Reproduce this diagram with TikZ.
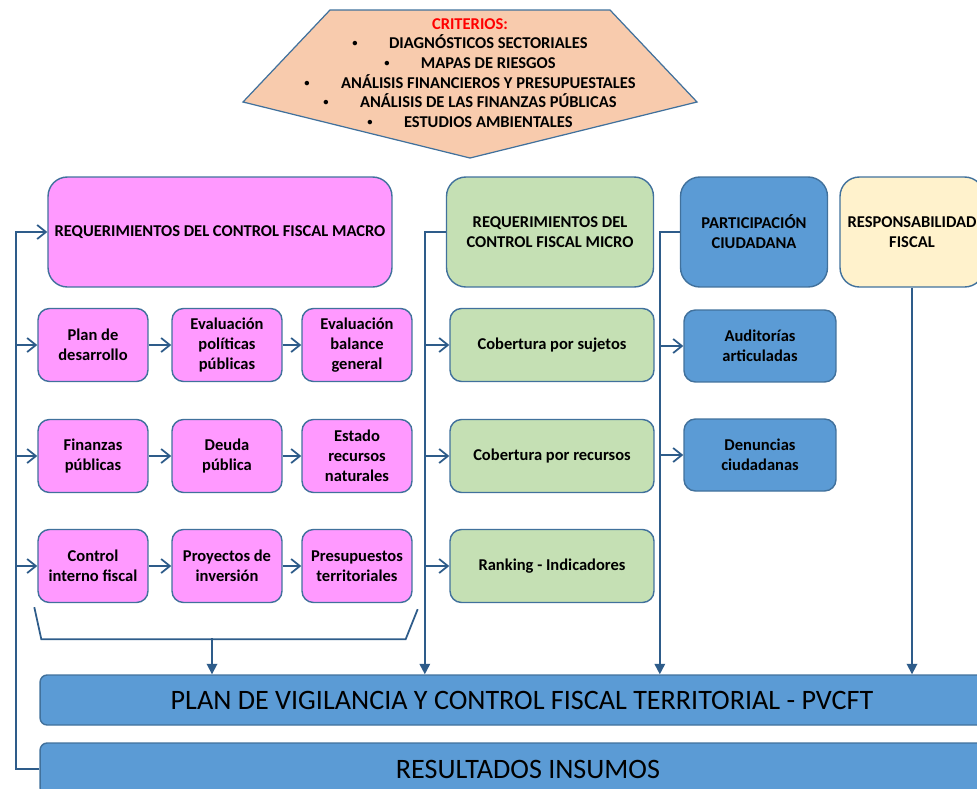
\documentclass[tikz,border=0pt]{standalone}
\usepackage{fontspec}
\setmainfont{Carlito}
\usetikzlibrary{arrows.meta}

\definecolor{rosa}{HTML}{FF99FF}
\definecolor{verde}{HTML}{C5E0B4}
\definecolor{azul}{HTML}{5B9BD5}
\definecolor{crema}{HTML}{FFF2CC}
\definecolor{durazno}{HTML}{F8CBAD}
\definecolor{borde}{HTML}{41719C}
\definecolor{linea}{HTML}{2E5C8A}
\newcommand{\punto}{\raisebox{0.25ex}{\fontsize{6}{6}\selectfont\textbullet}\hspace{1.9em}}

\begin{document}
\begin{tikzpicture}[x=0.02cm, y=-0.02cm,
            box/.style={draw=borde, line width=0.8pt, rounded corners=6.5pt, align=center, inner sep=2pt,
                font=\fontsize{9.4}{11.3}\selectfont\bfseries},
            bigbox/.style={box, rounded corners=11pt, minimum height=2.2cm},
            macrobox/.style={box, fill=rosa, minimum width=2.2cm, minimum height=1.46cm},
            microbox/.style={box, fill=verde, minimum width=4.08cm, minimum height=1.46cm},
            partbox/.style={box, fill=azul, minimum width=3.04cm, minimum height=1.44cm},
            planbox/.style={draw=borde, line width=0.8pt, fill=azul, rounded corners=4pt, font=\fontsize{16}{19}\selectfont},
            line/.style={draw=linea, line width=1pt},
            arr/.style={line, -{Straight Barb[length=5pt,width=8pt]}},
            tri/.style={line, -{Triangle[length=6pt,width=6pt]}}]
            \useasboundingbox (0,0) rectangle (977,788);
            \clip (0,0) rectangle (977,788);
            \draw [fill=durazno, draw=borde, line width=0.7pt] (330,10) -- (610,10) -- (697,102) -- (470,158) -- (243,102) -- cycle;
            \node [align=center, font=\fontsize{9.4}{11.2}\selectfont\bfseries] (criterios) at (470,73)
                {{\color{red}CRITERIOS:}\\
                \punto DIAGNÓSTICOS SECTORIALES\\
                \punto MAPAS DE RIESGOS\\
                \punto ANÁLISIS FINANCIEROS Y PRESUPUESTALES\\
                \punto ANÁLISIS DE LAS FINANZAS PÚBLICAS\\
                \punto ESTUDIOS AMBIENTALES};
            \node [bigbox, fill=rosa, minimum width=6.88cm] (macro) at (220,232) {REQUERIMIENTOS DEL CONTROL FISCAL MACRO};
            \node [bigbox, fill=verde, minimum width=4.14cm] (micro) at (550,232) {REQUERIMIENTOS DEL\\CONTROL FISCAL MICRO};
            \node [bigbox, fill=azul, minimum width=2.94cm] (part) at (754,232) {PARTICIPACIÓN\\CIUDADANA};
            \node [bigbox, fill=crema, minimum width=2.88cm] (resp) at (912,232) {RESPONSABILIDAD\\FISCAL};
            \node [planbox, minimum width=19.28cm, minimum height=1cm] (pvcft) at (522,700) {PLAN DE VIGILANCIA Y CONTROL FISCAL TERRITORIAL - PVCFT};
            \node [planbox, minimum width=19.52cm, minimum height=1.04cm] (resultados) at (528,769) {RESULTADOS INSUMOS};
            \coordinate (lbus) at (16,0);
            \draw [line, -{Straight Barb[length=5pt,width=8pt]}] (resultados.west) -- (lbus |- resultados.west) |- (macro.west);
            \foreach \i/\y/\ta/\tb/\tc in {1/345/{Plan de\\desarrollo}/{Evaluación\\políticas\\públicas}/{Evaluación\\balance\\general},
                    2/456/{Finanzas\\públicas}/{Deuda\\pública}/{Estado\\recursos\\naturales},
                    3/566/{Control\\interno fiscal}/{Proyectos de\\inversión}/{Presupuestos\\territoriales}} {
                \node [macrobox] (m\i a) at (93,\y) {\ta};
                \node [macrobox] (m\i b) at (227,\y) {\tb};
                \node [macrobox] (m\i c) at (357,\y) {\tc};
                \draw [arr] (m\i a) -- (m\i b);
                \draw [arr] (m\i b) -- (m\i c);
                \draw [arr] (lbus |- m\i a.west) -- (m\i a.west);
            }
            \draw [line] ([shift={(-3,4)}]m3a.south west) -- ([shift={(4,36)}]m3a.south west)
                -- ([shift={(-7,36)}]m3c.south east) -- ([shift={(5,6)}]m3c.south east);
            \coordinate (llave) at (212,638);
            \draw [tri] (llave) -- (llave |- pvcft.north);
            \foreach \n/\y/\t in {sujetos/345/Cobertura por sujetos, recursos/456/Cobertura por recursos, ranking/566/Ranking - Indicadores}
                \node [microbox] (\n) at (552,\y) {\t};
            \draw [tri] (micro.west) -- ++(-21,0) coordinate (mbus) -- (mbus |- pvcft.north);
            \foreach \n in {sujetos, recursos, ranking}
                \draw [arr] (mbus |- \n.west) -- (\n.west);
            \node [partbox] (auditorias) at (760,346) {Auditorías\\articuladas};
            \node [partbox] (denuncias) at (760,455) {Denuncias\\ciudadanas};
            \draw [tri] (part.west) -- ++(-20,0) coordinate (pbus) -- (pbus |- pvcft.north);
            \foreach \n in {auditorias, denuncias}
                \draw [arr] (pbus |- \n.west) -- (\n.west);
            \draw [tri] (resp.south) -- (resp.south |- pvcft.north);
        \end{tikzpicture}
\end{document}
